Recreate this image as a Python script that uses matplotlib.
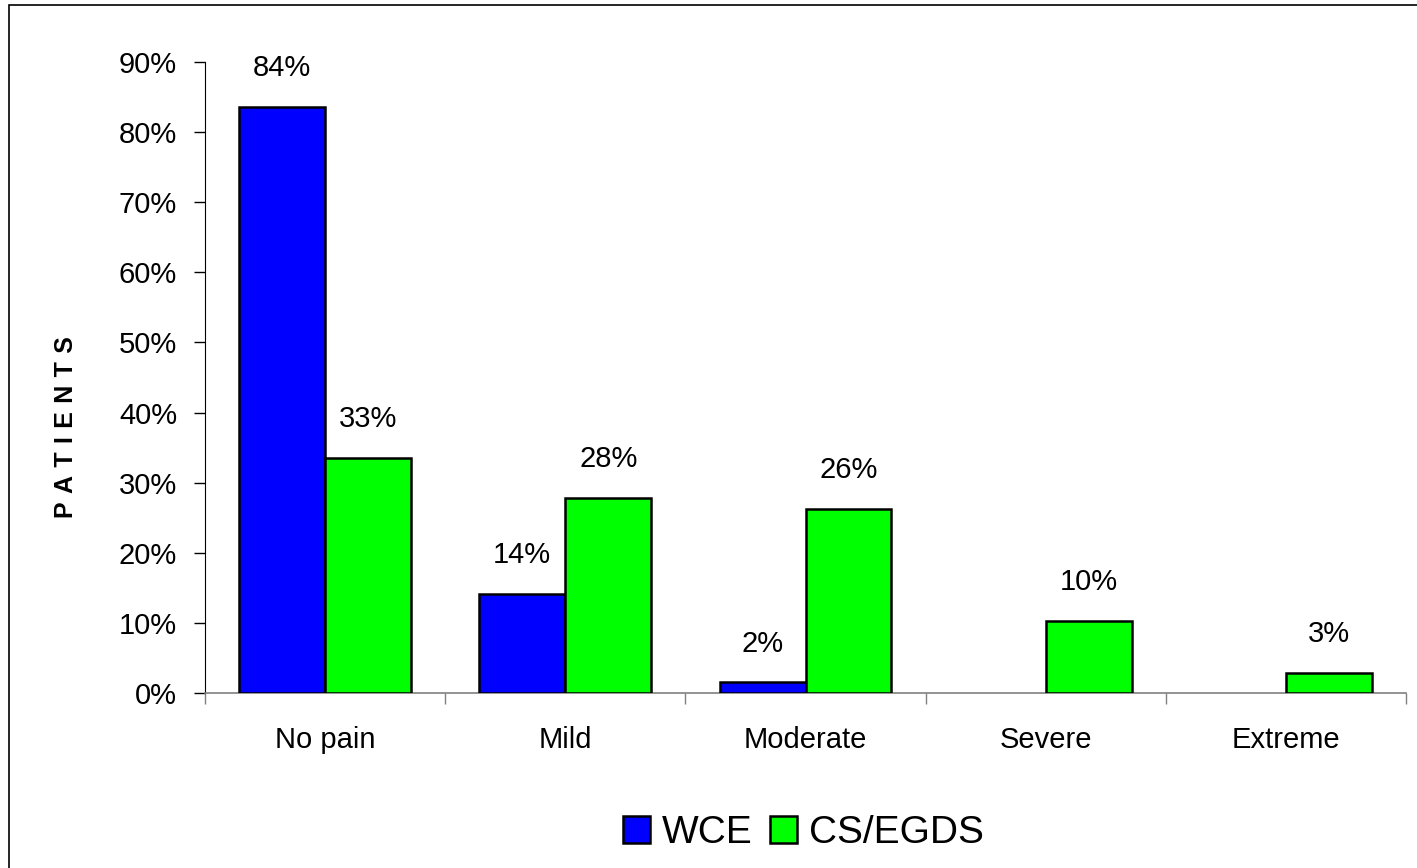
import matplotlib
matplotlib.use("Agg")
import matplotlib.pyplot as plt
from matplotlib.patches import Rectangle
import numpy as np

plt.rcParams['font.family'] = ['Liberation Sans', 'DejaVu Sans']

categories = ["No pain", "Mild", "Moderate", "Severe", "Extreme"]
wce_values = [83.6, 14.1, 1.5, 0.0, 0.0]
cs_values = [33.5, 27.8, 26.3, 10.3, 2.9]
wce_labels = ["84%", "14%", "2%", "", ""]
cs_labels = ["33%", "28%", "26%", "10%", "3%"]
yticks = [0, 10, 20, 30, 40, 50, 60, 70, 80, 90]
series_names = ["WCE", "CS/EGDS"]
colors = ["#0000FF", "#00FF00"]

fig = plt.figure(figsize=(14.17, 8.68), dpi=100)
ax = fig.add_axes([205/1417, 1-693/868, (1406-205)/1417, (693-62)/868])

# outer frame
fig.patches.append(Rectangle((9/1417, -0.5), 1.5, 1.5 - 5/868, transform=fig.transFigure,
                             fill=False, edgecolor='black', linewidth=1.2, zorder=0))

x = np.arange(len(categories))
w = 0.358
handles = []
for vals, labs, col, off, name in [(wce_values, wce_labels, colors[0], -w/2, series_names[0]),
                                   (cs_values, cs_labels, colors[1], w/2, series_names[1])]:
    idx = [i for i, v in enumerate(vals) if v > 0]
    bars = ax.bar(x[idx] + off, [vals[i] for i in idx], width=w, color=col,
                  edgecolor='black', linewidth=1.8, label=name, zorder=3)
    handles.append(bars)
    for i in idx:
        ax.annotate(labs[i], (x[i] + off, vals[i]), xytext=(0, 28), textcoords='offset points',
                    ha='center', va='center', fontsize=21)

ax.set_xlim(-0.5, len(categories) - 0.5)
ax.set_ylim(0, 90)
ax.set_yticks(yticks)
ax.set_yticklabels([f"{t}%" for t in yticks], fontsize=21)
ax.tick_params(axis='y', direction='out', length=8, width=1, pad=12, colors='black')

ax.set_xticks(np.arange(len(categories) + 1) - 0.5)
ax.set_xticklabels([])
ax.tick_params(axis='x', which='major', direction='out', length=8, width=1, color='#808080')
ax.set_xticks(x, minor=True)
ax.set_xticklabels(categories, minor=True, fontsize=21)
ax.tick_params(axis='x', which='minor', length=0, pad=24)

for s in ['top', 'right']:
    ax.spines[s].set_visible(False)
ax.spines['left'].set_color('black')
ax.spines['bottom'].set_color('#808080')
ax.spines['bottom'].set_linewidth(1.2)

fig.text(66/1417, 1-427/868, "\u2004".join("PATIENTS"), rotation=90, ha='center', va='center',
         fontsize=18, fontweight='bold')

fig.legend(handles=handles, labels=series_names, loc='center',
           bbox_to_anchor=(803/1417, 1-833/868), ncol=2, frameon=False, fontsize=28,
           handlelength=0.7, handleheight=0.7, handletextpad=0.3, columnspacing=0.45,
           borderaxespad=0)

fig.savefig("out.png", dpi=100)
